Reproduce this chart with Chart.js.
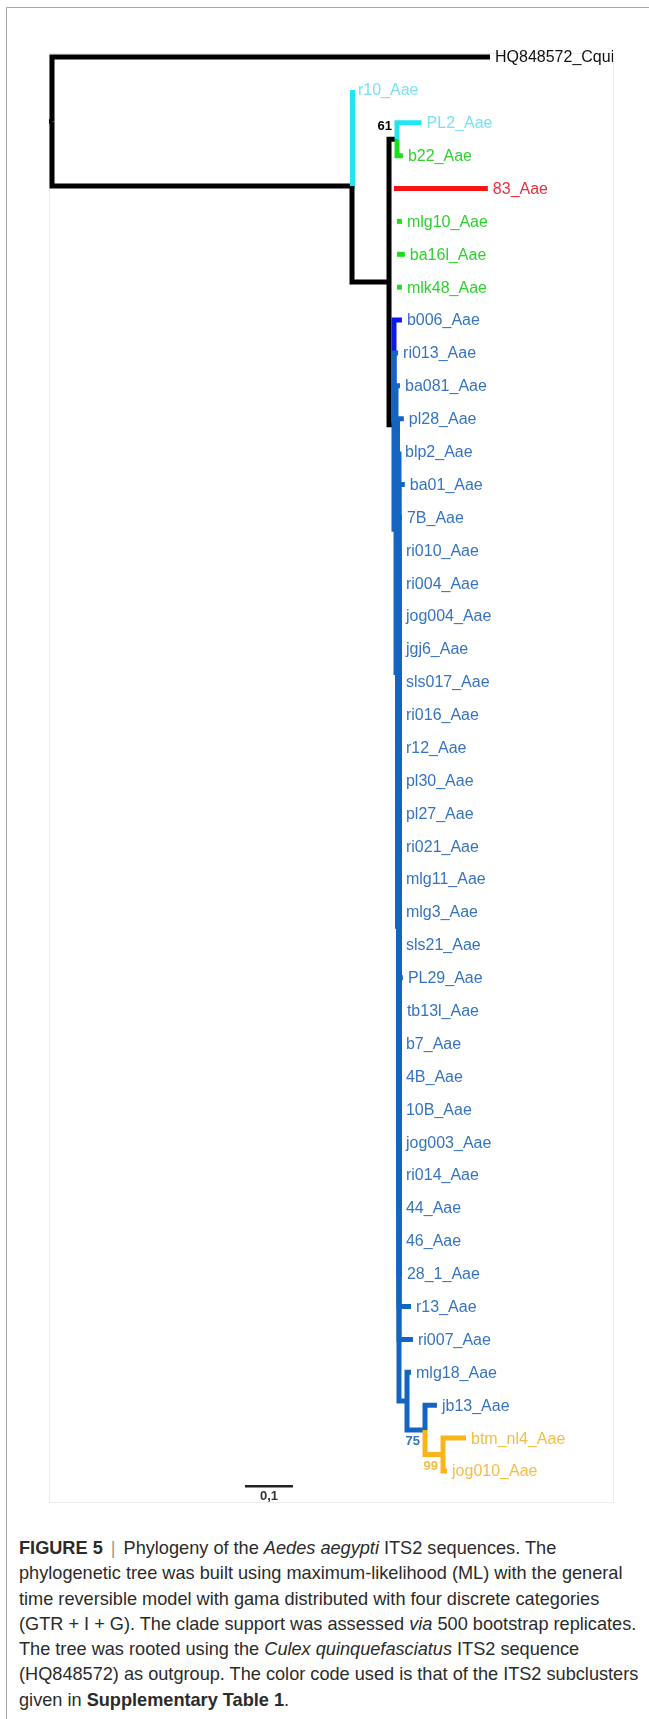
<!DOCTYPE html>
<html>
<head>
<meta charset="utf-8">
<script src="https://cdn.jsdelivr.net/npm/chart.js@4.4.0/dist/chart.umd.min.js"></script>
<style>
  html, body { margin: 0; padding: 0; background: #fff; }
  body { width: 649px; height: 1719px; position: relative; overflow: hidden; font-family: "Liberation Sans", Arial, sans-serif; }
  #frame { position: absolute; left: 6px; top: 7px; width: 680px; height: 1800px; border: 1px solid #aaa; }
  #plot { position: absolute; left: 49px; top: 53px; width: 563px; height: 1448px; border: 1px solid #ececec; }
  #tree { position: absolute; left: 0; top: 0; }
  #caption { position: absolute; left: 19px; top: 1536px; color: #2b2b2b; font-size: 17px; line-height: 25.3px; white-space: nowrap; }
  #caption .sep { color: #999; padding: 0 3px; }
</style>
</head>
<body>
<div id="frame"></div>
<div id="plot"></div>
<canvas id="tree" width="649" height="1510"></canvas>
<div id="caption">
  <div><span><b>FIGURE 5</b> <span class="sep">|</span> Phylogeny of the <i>Aedes aegypti</i> ITS2 sequences. The</span></div>
  <div><span>phylogenetic tree was built using maximum-likelihood (ML) with the general</span></div>
  <div><span>time reversible model with gama distributed with four discrete categories</span></div>
  <div><span id="longest">(GTR + I + G). The clade support was assessed <i>via</i> 500 bootstrap replicates.</span></div>
  <div><span>The tree was rooted using the <i>Culex quinquefasciatus</i> ITS2 sequence</span></div>
  <div><span>(HQ848572) as outgroup. The color code used is that of the ITS2 subclusters</span></div>
  <div><span>given in <b>Supplementary Table 1</b>.</span></div>
</div>
<script>
// tips, top to bottom
var taxa = ['HQ848572_Cqui', 'r10_Aae', 'PL2_Aae', 'b22_Aae', '83_Aae', 'mlg10_Aae', 'ba16l_Aae', 'mlk48_Aae',
  'b006_Aae', 'ri013_Aae', 'ba081_Aae', 'pl28_Aae', 'blp2_Aae', 'ba01_Aae', '7B_Aae', 'ri010_Aae', 'ri004_Aae',
  'jog004_Aae', 'jgj6_Aae', 'sls017_Aae', 'ri016_Aae', 'r12_Aae', 'pl30_Aae', 'pl27_Aae', 'ri021_Aae', 'mlg11_Aae',
  'mlg3_Aae', 'sls21_Aae', 'PL29_Aae', 'tb13l_Aae', 'b7_Aae', '4B_Aae', '10B_Aae', 'jog003_Aae', 'ri014_Aae',
  '44_Aae', '46_Aae', '28_1_Aae', 'r13_Aae', 'ri007_Aae', 'mlg18_Aae', 'jb13_Aae', 'btm_nl4_Aae', 'jog010_Aae'];

// distance of each tip from the root (substitutions/site)
var tipDepth = [0.9125, 0.627, 0.770, 0.731, 0.908, 0.729, 0.735, 0.729,
  0.729, 0.721, 0.725, 0.733, 0.725, 0.735, 0.729, 0.727, 0.727,
  0.727, 0.727, 0.727, 0.727, 0.727, 0.727, 0.727, 0.727, 0.727,
  0.727, 0.727, 0.731, 0.729, 0.727, 0.727, 0.727, 0.727, 0.727,
  0.727, 0.727, 0.729, 0.748, 0.752, 0.748, 0.802, 0.8625, 0.823];

// ITS2 subcluster of each tip
var tipGroup = ['out', 'cyan', 'cyan', 'green', 'red', 'green', 'green', 'green',
  'blue1', 'blue', 'blue', 'blue', 'blue', 'blue', 'blue', 'blue', 'blue',
  'blue', 'blue', 'blue', 'blue', 'blue', 'blue', 'blue', 'blue', 'blue',
  'blue', 'blue', 'blue', 'blue', 'blue', 'blue', 'blue', 'blue', 'blue',
  'blue', 'blue', 'blue', 'blue', 'blue', 'blue', 'blue', 'yellow', 'yellow'];

// internal nodes
var nodeNames = ['root', 'N1', 'N2', 'N61', 'R', 'G', 'B', 'C', 'D', 'E', 'M', 'J', 'Y'];
var nodeDepth = [0, 0.625, 0.7021, 0.7188, 0.7125, 0.7188, 0.7125, 0.7167, 0.7198, 0.7229, 0.7396, 0.7771, 0.8146];
var nodeKids = [
  [0, 'N1'],
  [1, 'N2'],
  ['N61', 'R', 'B'],
  [2, 3],
  [4, 'G'],
  [5, 6, 7],
  [8, 9, 'C'],
  [10, 'D'],
  [11, 'E'],
  [12, 13, 14, 15, 16, 17, 18, 19, 20, 21, 22, 23, 24, 25, 26, 27, 28, 29, 30, 31, 32, 33, 34, 35, 36, 37, 38, 39, 'M'],
  [40, 'J'],
  [41, 'Y'],
  [42, 43]
];
var nodeGroup = ['out', 'out', 'out', 'out', 'out', 'green', 'out', 'blue', 'blue', 'blue', 'blue', 'blue', 'yellow'];
var nodeSupport = [null, null, null, 61, null, null, null, null, null, null, null, 75, 99];

var rootStub = 0.006;
var scaleBarStart = 0.402;
var scaleBarLength = 0.1;
var scaleBarLabel = '0,1';

var lineColor = {out: '#000000', cyan: '#1ee6f2', green: '#19e019', red: '#f41414', blue1: '#0c18f0', blue: '#1565c0', yellow: '#f8b41b'};
var textColor = {out: '#111111', cyan: '#7ce0f4', green: '#2fd12f', red: '#e8303a', blue1: '#3674c2', blue: '#3674c2', yellow: '#f5bd45'};

// y of an internal node = middle of its first and last child
var nodeY = [];
function kidY(k) {
    return typeof k === 'number' ? k : layoutY(nodeNames.indexOf(k));
}
function layoutY(n) {
    var kids = nodeKids[n];
    nodeY[n] = (kidY(kids[0]) + kidY(kids[kids.length - 1])) / 2;
    return nodeY[n];
}
layoutY(0);

var datasets = [];
function addLine(points, color, width) {
    datasets.push({
        data: points,
        showLine: true,
        borderColor: color,
        borderWidth: width,
        pointRadius: 0,
        fill: false,
        clip: false,
        borderCapStyle: 'butt',
        borderJoinStyle: 'miter',
        order: -datasets.length
    });
}

addLine([{x: -rootStub, y: nodeY[0]}, {x: 0, y: nodeY[0]}], lineColor.out, 5);

function walk(n) {
    nodeKids[n].forEach(function (k) {
        var tip = typeof k === 'number';
        var idx = tip ? k : nodeNames.indexOf(k);
        var cy = tip ? k : nodeY[idx];
        var cx = tip ? tipDepth[idx] : nodeDepth[idx];
        var grp = tip ? tipGroup[idx] : nodeGroup[idx];
        addLine([
            {x: nodeDepth[n], y: nodeY[n]},
            {x: nodeDepth[n], y: cy},
            {x: cx, y: cy}
        ], lineColor[grp], 5);
        if (!tip) walk(idx);
    });
}
walk(0);

var barY = taxa.length - 1 + 0.46;
addLine([{x: scaleBarStart, y: barY}, {x: scaleBarStart + scaleBarLength, y: barY}], '#222222', 2.5);

var labelPlugin = {
    id: 'treeLabels',
    afterDatasetsDraw: function (chart) {
        var xs = chart.scales.x, ys = chart.scales.y, c = chart.ctx;
        c.save();
        c.beginPath();
        c.rect(0, 0, 613, 1502);
        c.clip();

        // tip names
        c.font = '16px "Liberation Sans", Arial, sans-serif';
        c.textBaseline = 'middle';
        c.textAlign = 'left';
        taxa.forEach(function (t, i) {
            c.fillStyle = textColor[tipGroup[i]];
            c.fillText(t, xs.getPixelForValue(tipDepth[i]) + 5, ys.getPixelForValue(i) + 1);
        });

        // bootstrap support
        c.font = 'bold 13px "Liberation Sans", Arial, sans-serif';
        c.textAlign = 'right';
        nodeSupport.forEach(function (s, n) {
            if (s === null) return;
            var parent = nodeKids.findIndex(function (ks) { return ks.indexOf(nodeNames[n]) >= 0; });
            var first = nodeKids[parent][0] === nodeNames[n];
            c.fillStyle = lineColor[nodeGroup[n]] === '#000000' ? '#000' : textColor[nodeGroup[n]];
            c.fillText(String(s), xs.getPixelForValue(nodeDepth[n]) - 5,
                ys.getPixelForValue(nodeY[n]) + (first ? -13 : 12));
        });

        // scale bar label
        c.font = 'bold 13px "Liberation Sans", Arial, sans-serif';
        c.textAlign = 'center';
        c.fillStyle = '#333';
        c.fillText(scaleBarLabel, xs.getPixelForValue(scaleBarStart + scaleBarLength / 2), ys.getPixelForValue(barY) + 10);
        c.restore();
    }
};

new Chart(document.getElementById('tree').getContext('2d'), {
    type: 'scatter',
    data: {datasets: datasets},
    options: {
        responsive: false,
        animation: false,
        events: [],
        layout: {padding: {left: 52, right: 117, top: 57, bottom: 39}},
        scales: {
            x: {type: 'linear', min: 0, max: 1, display: false},
            y: {type: 'linear', min: 0, max: taxa.length - 1, reverse: true, display: false}
        },
        plugins: {legend: {display: false}, tooltip: {enabled: false}}
    },
    plugins: [labelPlugin]
});

// fit caption width to the reference
var cap = document.getElementById('caption');
var w = document.getElementById('longest').getBoundingClientRect().width;
cap.style.fontSize = (17 * 618 / w) + 'px';
</script>
</body>
</html>
